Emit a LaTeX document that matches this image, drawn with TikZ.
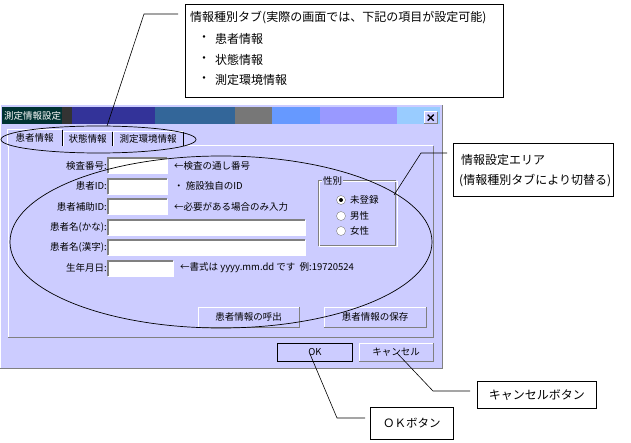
\documentclass[tikz,border=0pt]{standalone}
\usepackage{fontspec}
\setmainfont{Noto Sans CJK JP}
\usetikzlibrary{shapes.geometric}
\definecolor{winbg}{HTML}{CCCCFF}
\definecolor{shadowc}{HTML}{808080}
\definecolor{tbA}{HTML}{003333}
\definecolor{tbB}{HTML}{333333}
\definecolor{tbC}{HTML}{333399}
\definecolor{tbD}{HTML}{336699}
\definecolor{tbE}{HTML}{777777}
\definecolor{tbF}{HTML}{6699FF}
\definecolor{tbG}{HTML}{9999FF}
\definecolor{tbH}{HTML}{99CCFF}
\newcommand\raisedfr[1]{\draw[white,line width=1pt] (#1.south west) |- (#1.north east);
  \draw[shadowc,line width=1pt] (#1.south west) -| (#1.north east);}
\newcommand\sunkenfr[1]{\draw[white,line width=1pt] (#1.south west) -| (#1.north east);
  \draw[shadowc,line width=1.5pt] (#1.south west) |- (#1.north east);}
\tikzset{
  ui/.style={font=\fontsize{9.5}{11}\selectfont, inner sep=0pt},
  lbl/.style={ui, anchor=east},
  note/.style={ui, anchor=west},
  callout/.style={draw=black, line width=0.8pt, fill=white, inner sep=0pt, anchor=north west},
  ctext/.style={font=\fontsize{12}{14}\selectfont, inner sep=0pt, anchor=west},
  leader/.style={line width=0.6pt},
  fieldbox/.style={fill=white, inner sep=0pt, anchor=north west, minimum height=15pt},
  btnbox/.style={fill=winbg, inner sep=0pt, anchor=north west, font=\fontsize{9.5}{11}\selectfont},
  tabbox/.style={fill=winbg, inner sep=0pt, anchor=north west, minimum height=14pt, font=\fontsize{9.5}{11}\selectfont},
  radio/.style={circle, draw=shadowc, fill=white, minimum size=9pt, inner sep=0pt},
  hilite/.style={draw=black, line width=0.7pt, ellipse, inner sep=0pt}
}
\begin{document}
\begin{tikzpicture}[x=1pt,y=-1pt]
\useasboundingbox (0,0) rectangle (631,443);
\fill[white] (0,0) rectangle (631,443);

% ---------- window ----------
\node[fill=winbg, inner sep=0pt, minimum width=442pt, minimum height=263pt, anchor=north west] (win) at (0,105) {};
\draw[shadowc, line width=1.2pt] (win.south west) -| (win.north east);
\draw[white, line width=1pt] (win.south west) |- (win.north east);
% title bar
\fill[tbA] (2,107) rectangle (62,124);
\fill[tbB] (62,107) rectangle (72,124);
\fill[tbC] (72,107) rectangle (155,124);
\fill[tbD] (155,107) rectangle (235,124);
\fill[tbE] (235,107) rectangle (272,124);
\fill[tbF] (272,107) rectangle (320,124);
\fill[tbG] (320,107) rectangle (397,124);
\fill[tbH] (397,107) rectangle (440,124);
\node[ui, text=white, anchor=west] (ttl) at (4,116) {測定情報設定};
\node[fill=winbg, inner sep=0pt, minimum width=13pt, minimum height=11pt, anchor=north west] (closeb) at (424,112) {};
\raisedfr{closeb}
\draw[line width=1.3pt] ([xshift=-3pt,yshift=3pt]closeb.center) -- ([xshift=3pt,yshift=-3pt]closeb.center);
\draw[line width=1.3pt] ([xshift=-3pt,yshift=-3pt]closeb.center) -- ([xshift=3pt,yshift=3pt]closeb.center);

% panel
\node[inner sep=0pt, minimum width=425pt, minimum height=191pt, anchor=north west] (panel) at (8,146) {};
\draw[white, line width=1pt] (panel.south west) |- (panel.north east);
\draw[shadowc, line width=1.5pt] (panel.south west) -| (panel.north east);

% tabs
\node[tabbox, minimum width=55pt, minimum height=16pt] (tab1) at (7,130) {患者情報};
\node[tabbox, minimum width=49pt] (tab2) at (63,132) {状態情報};
\node[tabbox, minimum width=70pt] (tab3) at (113,132) {測定環境情報};
\draw[white, line width=1pt] (tab1.south west) |- (tab1.north east);
\draw[black, line width=1pt] (tab1.north east) -- (tab1.south east);
\draw[white, line width=1pt] (tab2.south west) |- (tab2.north east);
\draw[black, line width=1pt] (tab2.north east) -- (tab2.south east);
\draw[white, line width=1pt] (tab3.south west) |- (tab3.north east);
\draw[black, line width=1pt] (tab3.north east) -- (tab3.south east);

% labels
\node[lbl] (l1) at (107,166) {検査番号:};
\node[lbl] (l2) at (107,186) {患者ID:};
\node[lbl] (l3) at (107,207) {患者補助ID:};
\node[lbl] (l4) at (107,227) {患者名(かな):};
\node[lbl] (l5) at (107,247) {患者名(漢字):};
\node[lbl] (l6) at (107,268) {生年月日:};

% fields
\node[fieldbox, minimum width=59pt] (f1) at (108,158) {};
\node[fieldbox, minimum width=59pt] (f2) at (108,179) {};
\node[fieldbox, minimum width=59pt] (f3) at (108,199) {};
\node[fieldbox, minimum width=197pt] (f4) at (108,220) {};
\node[fieldbox, minimum width=197pt] (f5) at (108,240) {};
\node[fieldbox, minimum width=65pt] (f6) at (108,261) {};
\sunkenfr{f1}\sunkenfr{f2}\sunkenfr{f3}\sunkenfr{f4}\sunkenfr{f5}\sunkenfr{f6}

% notes
\node[note] (n1) at (174,166) {←検査の通し番号};
\node[note] (n2) at (174,186) {・ 施設独自のID};
\node[note] (n3) at (174,207) {←必要がある場合のみ入力};
\node[note] (n6) at (180,268) {←書式は yyyy.mm.dd です\ \ 例:19720524};

% sex group
\node[draw=shadowc, line width=0.8pt, inner sep=0pt, minimum width=77pt, minimum height=65pt, anchor=north west] (grp) at (318,180) {};
\draw[white, line width=0.6pt] ([shift={(1pt,-1pt)}]grp.north west) rectangle ([shift={(1pt,-1pt)}]grp.south east);
\node[ui, fill=winbg, anchor=west, inner xsep=1pt] (grplbl) at (322,181) {性別};
\node[radio] (r1) at (341,200) {};
\fill (r1.center) circle (2pt);
\node[radio] (r2) at (341,216) {};
\node[radio] (r3) at (341,231) {};
\node[note] (rt1) at (350,200) {未登録};
\node[note] (rt2) at (350,216) {男性};
\node[note] (rt3) at (350,231) {女性};

% buttons
\node[btnbox, minimum width=101pt, minimum height=20pt] (b1) at (198,307) {患者情報の呼出};
\node[btnbox, minimum width=102pt, minimum height=20pt] (b2) at (324,307) {患者情報の保存};
\raisedfr{b1}\raisedfr{b2}
\node[btnbox, minimum width=75pt, minimum height=18pt, draw=black, line width=1pt] (okb) at (277,343) {OK};
\node[btnbox, minimum width=74pt, minimum height=18pt] (cancb) at (359,343) {キャンセル};
\raisedfr{cancb}

% ---------- highlight ellipses ----------
\node[hilite, minimum width=195pt, minimum height=27pt] (tabell) at (98.5,139.5) {};
\node[hilite, minimum width=422pt, minimum height=172pt] (areaell) at (221,242) {};

% ---------- callouts ----------
\node[callout, minimum width=318pt, minimum height=93pt] (topbox) at (185,4) {};
\node[ctext] (tt0) at (190,18) {情報種別タブ(実際の画面では、下記の項目が設定可能)};
\node[ctext] (tb1) at (198,39) {・};
\node[ctext] (tt1) at (215,39) {患者情報};
\node[ctext] (tb2) at (198,60) {・};
\node[ctext] (tt2) at (215,60) {状態情報};
\node[ctext] (tb3) at (198,80) {・};
\node[ctext] (tt3) at (215,80) {測定環境情報};

\node[callout, minimum width=160pt, minimum height=53pt] (areabox) at (453,143) {};
\node[ctext] (at1) at (461,160) {情報設定エリア};
\node[ctext] (at2) at (459,181) {(情報種別タブにより切替る)};

\node[callout, minimum width=83pt, minimum height=32pt, font=\fontsize{11.5}{13}\selectfont] (okbox) at (370,407) {ＯＫボタン};
\node[callout, minimum width=119pt, minimum height=27pt, font=\fontsize{12}{14}\selectfont] (cancbox) at (477,381) {キャンセルボタン};

% leaders
\coordinate (tabpt) at (107,126);
\coordinate (tabbend) at (144,14);
\coordinate (tabend) at (178,14);
\draw[leader] (tabpt) -- (tabbend) -- (tabend);
\coordinate (areapt) at (394,195);
\coordinate (areabend) at (421,153);
\coordinate (areaend) at (447,153);
\draw[leader] (areapt) -- (areabend) -- (areaend);
\coordinate (okpt) at (310,354);
\coordinate (okbend) at (337,418);
\coordinate (okend) at (365,418);
\draw[leader] (okpt) -- (okbend) -- (okend);
\coordinate (cancpt) at (397,353);
\coordinate (cancbend) at (433,391);
\coordinate (cancend) at (470,391);
\draw[leader] (cancpt) -- (cancbend) -- (cancend);
\end{tikzpicture}
\end{document}
